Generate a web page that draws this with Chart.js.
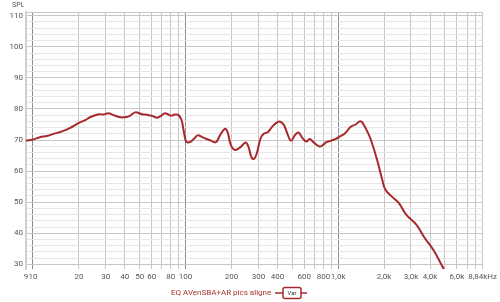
<!DOCTYPE html>
<html>
<head>
<meta charset="utf-8">
<script src="https://cdn.jsdelivr.net/npm/chart.js@4"></script>
<style>
    html, body { margin: 0; padding: 0; background: #fff; }
    #wrap { width: 500px; height: 302px; }
</style>
</head>
<body>
<div id="wrap"><canvas id="responseChart"></canvas></div>
<script>
const seriesName = 'EQ AVenSBA+AR pics aligne';
const symbolText = 'Var';
const yTitle = 'SPL';

// frequency (Hz) and level (dB)
const freqs = [9, 10, 11.1, 12.3, 13.5, 15.5, 17.4, 20.1, 22, 24, 27.1, 29, 31.2, 33.5, 36.6, 39, 42.4, 46.8, 51.8, 56,
    60, 64.6, 69, 73.3, 77, 81, 85, 89.6, 94, 98, 101, 106, 113, 120, 128, 136, 147, 158, 168, 181,
    188, 196, 203, 213, 230, 247, 258, 270, 280, 292, 310, 325, 345, 370, 395, 418, 440, 465, 490, 520,
    549, 580, 620, 650, 700, 755, 800, 836, 900, 957, 1030, 1110, 1210, 1300, 1370, 1420, 1470, 1550, 1640, 1800,
    1950, 2040, 2250, 2500, 2800, 3260, 3700, 4200, 4880, 5200];
const spl = [69.8, 70.2, 70.9, 71.3, 71.9, 72.8, 73.8, 75.6, 76.4, 77.5, 78.3, 78.2, 78.6, 78.1, 77.4, 77.3, 77.6, 78.9, 78.3, 78.1,
    77.8, 77.2, 77.8, 78.6, 78.2, 77.8, 78.2, 78.1, 76.5, 72, 69.5, 69.3, 70.3, 71.5, 71.0, 70.4, 69.8, 69.3, 71.5, 73.6,
    72.7, 69, 67.4, 66.8, 67.8, 69.2, 67.9, 64.5, 63.9, 65.5, 70.5, 72.0, 72.5, 74.3, 75.6, 75.9, 74.9, 72, 69.8, 71.5,
    72.4, 70.8, 69.5, 70.3, 69.0, 67.9, 68.5, 69.3, 69.8, 70.3, 71.2, 72.2, 74.3, 75.0, 75.9, 75.9, 74.9, 72.8, 70.0, 63.6,
    57, 54.0, 51.8, 49.7, 45.9, 42.7, 38.4, 34.7, 28.8, 26];

const xTicks = [9, 10, 20, 30, 40, 50, 60, 70, 80, 90, 100, 200, 300, 400, 500, 600, 700, 800, 900,
    1000, 2000, 3000, 4000, 5000, 6000, 7000, 8000, 8840];
const xLabels = {9: '9', 10: '10', 20: '20', 30: '30', 40: '40', 50: '50', 60: '60', 80: '80', 100: '100',
    200: '200', 300: '300', 400: '400', 600: '600', 800: '800', 1000: '1,0k', 2000: '2,0k', 3000: '3,0k',
    4000: '4,0k', 6000: '6,0k', 8840: '8,84kHz'};
const decades = [10, 100, 1000];
const yLabels = [30, 40, 50, 60, 70, 80, 90, 100, 110];
const yMin = 28.5;
const yMax = 111.2;

const tickFont = { family: 'Roboto, "Open Sans", sans-serif', size: 8 };
const red = '#a8292c';

const yTicks = [];
for (let v = 30; v <= 110; v += 2) yTicks.push(v);
yTicks.push(yMax);

const extras = {
    id: 'extras',
    afterDraw(chart) {
        const c = chart.ctx;
        c.save();
        c.font = '7px Roboto, sans-serif';
        c.fillStyle = '#555';
        c.textAlign = 'left';
        c.textBaseline = 'middle';
        c.fillText(yTitle, 12, 5);

        // legend
        c.font = '8px Roboto, sans-serif';
        c.fillStyle = '#a3342f';
        c.fillText(seriesName, 171, 293);
        c.strokeStyle = red;
        c.lineWidth = 1.5;
        c.beginPath();
        c.moveTo(275, 293);
        c.lineTo(307, 293);
        c.stroke();
        c.fillStyle = '#fff';
        c.beginPath();
        c.roundRect(283, 287.5, 18, 11, 2);
        c.fill();
        c.stroke();
        c.font = '6px Roboto, sans-serif';
        c.fillStyle = '#333';
        c.textAlign = 'center';
        c.fillText(symbolText, 292, 293);
        c.restore();
    }
};

const ctx = document.getElementById('responseChart').getContext('2d');
new Chart(ctx, {
    type: 'line',
    data: {
        datasets: [{
            label: seriesName,
            data: freqs.map((f, i) => ({ x: f, y: spl[i] })),
            borderColor: red,
            borderWidth: 2,
            pointRadius: 0,
            tension: 0.4,
            fill: false
        }]
    },
    options: {
        responsive: true,
        maintainAspectRatio: false,
        animation: false,
        layout: { padding: { top: 12, right: 14, left: 0, bottom: 0 } },
        plugins: {
            legend: { display: false },
            tooltip: { enabled: false }
        },
        scales: {
            x: {
                type: 'logarithmic',
                min: 9,
                max: 8840,
                afterBuildTicks: s => { s.ticks = xTicks.map(v => ({ value: v })); },
                afterFit: s => { s.height = 33; },
                ticks: {
                    autoSkip: false,
                    maxRotation: 0,
                    padding: 3,
                    color: '#555',
                    font: tickFont,
                    callback: v => xLabels[v] ?? ''
                },
                grid: {
                    drawTicks: false,
                    color: c => {
                        const v = c.tick ? c.tick.value : 0;
                        if (v === 9) return 'rgba(0,0,0,0)';
                        return decades.includes(v) ? '#8a8a8a' : '#c6c6c6';
                    }
                },
                border: { display: false }
            },
            y: {
                min: yMin,
                max: yMax,
                afterBuildTicks: s => { s.ticks = yTicks.map(v => ({ value: v })); },
                afterFit: s => { s.width = 26; },
                ticks: {
                    autoSkip: false,
                    padding: 3,
                    color: '#555',
                    font: tickFont,
                    callback: v => yLabels.includes(v) ? String(v) : ''
                },
                grid: {
                    drawTicks: false,
                    color: c => {
                        const v = c.tick ? c.tick.value : 0;
                        return (v % 10 === 0 || v === yMax) ? '#c8c8c8' : '#e6e6e6';
                    }
                },
                border: { color: '#d0d0d0', width: 2 }
            }
        }
    },
    plugins: [extras]
});
</script>
</body>
</html>
